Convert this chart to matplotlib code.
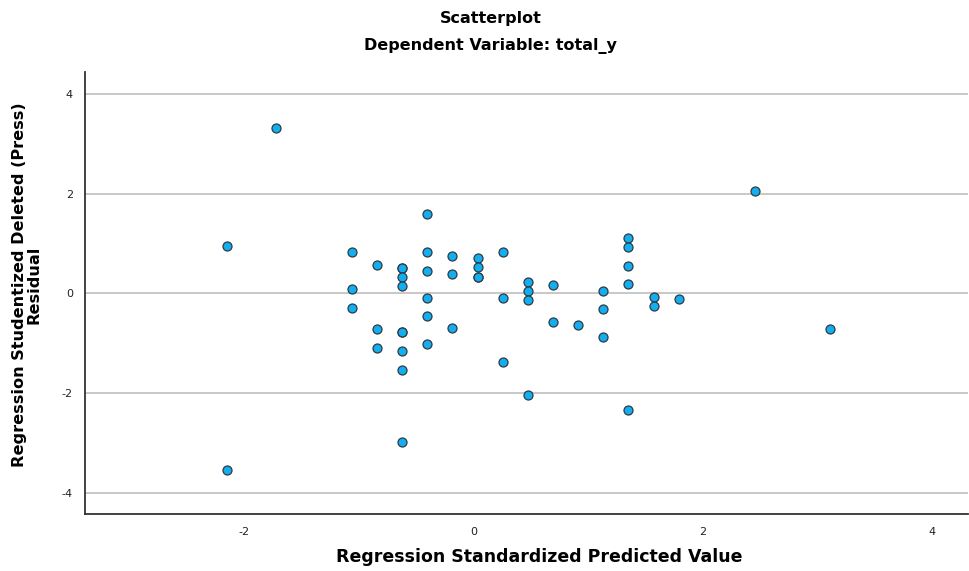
import matplotlib
matplotlib.use("Agg")
import matplotlib.pyplot as plt

# Regression standardized predicted value (x) and studentized deleted residual (y)
pred = [-2.150, -2.150, -1.716,
        -1.058, -1.058, -1.058,
        -0.837, -0.837, -0.837,
        -0.620, -0.620, -0.620, -0.620, -0.620, -0.620, -0.620, -0.620, -0.620,
        -0.403, -0.403, -0.403, -0.403, -0.403, -0.403,
        -0.183, -0.183, -0.183,
        0.037, 0.037, 0.037, 0.037,
        0.255, 0.255, 0.255,
        0.476, 0.476, 0.476, 0.476,
        0.696, 0.696,
        0.913,
        1.133, 1.133, 1.133,
        1.350, 1.350, 1.350, 1.350, 1.350,
        1.571, 1.571,
        1.789,
        2.450,
        3.104]
resid = [0.956, -3.542, 3.325,
         0.823, 0.080, -0.289,
         0.574, -0.717, -1.092,
         0.514, 0.514, 0.327, 0.141, -0.777, -0.777, -1.153, -1.540, -2.986,
         1.586, 0.823, 0.454, -0.094, -0.462, -1.018,
         0.755, 0.388, -0.703,
         0.703, 0.522, 0.333, 0.333,
         0.835, -0.088, -1.386,
         0.227, 0.040, -0.141, -2.042,
         0.167, -0.570,
         -0.637,
         0.046, -0.321, -0.884,
         1.116, 0.924, 0.548, 0.181, -2.337,
         -0.068, -0.255,
         -0.120,
         2.054,
         -0.717]

title = "Scatterplot"
subtitle = "Dependent Variable: total_y"
xlabel = "Regression Standardized Predicted Value"
ylabel = "Regression Studentized Deleted (Press)\nResidual"
xticks = [-2, 0, 2, 4]
yticks = [-4, -2, 0, 2, 4]

fig = plt.figure(figsize=(9.69, 5.71), dpi=100)
ax = fig.add_axes([0.0882, 0.099, 0.9108, 0.775])

ax.set_xlim(-3.38, 4.31)
ax.set_ylim(-4.44, 4.44)

for t in yticks:
    ax.axhline(t, color="#c4c4c4", lw=1.3, zorder=1)

ax.scatter(pred, resid, s=42, facecolor="#12aef0", edgecolor="#2e3a44",
           linewidths=0.9, zorder=3)

ax.set_xticks(xticks)
ax.set_yticks(yticks)
ax.set_xticklabels([str(v) for v in xticks])
ax.set_yticklabels([str(v) for v in yticks])
ax.tick_params(length=0, pad=9, labelsize=8, labelcolor="#222222")

for s in ["top", "right"]:
    ax.spines[s].set_visible(False)
for s in ["left", "bottom"]:
    ax.spines[s].set_color("#333333")
    ax.spines[s].set_linewidth(1.3)

fig.text(0.557, 1 - 557 / 571, xlabel, ha="center", va="center",
         fontsize=12.5, fontweight="bold", family=["DejaVu Sans"])
fig.text(27 / 969, 1 - 285 / 571, ylabel, ha="center", va="center",
         rotation=90, fontsize=11.6, fontweight="bold", linespacing=0.95,
         multialignment="center", family=["DejaVu Sans"])

fig.text(0.506, 0.968, title, ha="center", va="center", fontsize=11.5,
         fontweight="bold", family=["DejaVu Sans"])
fig.text(0.506, 0.919, subtitle, ha="center", va="center", fontsize=11.5,
         fontweight="bold", family=["DejaVu Sans"])

fig.savefig("out.png", dpi=100)
